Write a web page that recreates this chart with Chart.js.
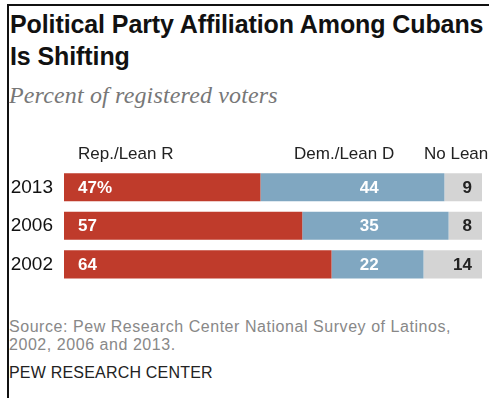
<!DOCTYPE html>
<html>
<head>
<meta charset="utf-8">
<script src="https://cdn.jsdelivr.net/npm/chart.js"></script>
<style>
  html, body { margin: 0; padding: 0; background: #fff; }
  body { width: 489px; height: 398px; position: relative; overflow: hidden; font-family: "Liberation Sans", Arial, sans-serif; }
  .frame { position: absolute; left: 7px; top: 4px; right: -5px; bottom: -5px; border-top: 2px solid #111; border-left: 2px solid #111; }
  .title { position: absolute; left: 10px; top: 8px; font-family: "Liberation Sans", Arial, sans-serif; font-weight: bold; font-size: 25px; line-height: 32px; color: #111; letter-spacing: -0.1px; white-space: nowrap; }
  .subtitle { position: absolute; left: 9px; top: 82px; font-family: "Liberation Serif", serif; font-style: italic; font-size: 24px; color: #777; letter-spacing: 0.15px; white-space: nowrap; }
  .chart { position: absolute; left: 0; top: 130px; width: 489px; height: 176px; }
  .source { position: absolute; left: 9px; top: 318px; font-size: 16px; line-height: 18px; color: #888; letter-spacing: 0.55px; white-space: nowrap; }
  .brand { position: absolute; left: 9px; top: 364px; font-size: 16px; color: #222; letter-spacing: 0.2px; }
</style>
</head>
<body>
<div class="frame"></div>
<div class="title">Political Party Affiliation Among Cubans<br>Is Shifting</div>
<div class="subtitle">Percent of registered voters</div>
<div class="chart"><canvas id="partyChart"></canvas></div>
<div class="source">Source: Pew Research Center National Survey of Latinos,<br>2002, 2006 and 2013.</div>
<div class="brand">PEW RESEARCH CENTER</div>

<script>
// data
const years = ['2013', '2006', '2002'];
const seriesNames = ['Rep./Lean R', 'Dem./Lean D', 'No Lean'];
const repValues = [47, 57, 64];
const demValues = [44, 35, 22];
const noLeanValues = [9, 8, 14];

const colors = ['#bf3b2b', '#80a7c1', '#d4d4d4'];

// column headers + value labels inside the bars
const barLabels = {
    id: 'barLabels',
    afterDatasetsDraw(chart) {
        const ctx = chart.ctx;
        const x = chart.scales.x;
        const top = chart.chartArea.top;
        ctx.save();
        ctx.textBaseline = 'middle';

        // headers
        ctx.font = '17px "Liberation Sans", Arial, sans-serif';
        ctx.fillStyle = '#222';
        ctx.textAlign = 'left';
        ctx.fillText(seriesNames[0], x.getPixelForValue(0) + 14, top - 14);
        ctx.textAlign = 'right';
        ctx.fillText(seriesNames[1], x.getPixelForValue(79), top - 14);
        ctx.fillText(seriesNames[2], x.getPixelForValue(101.5), top - 14);

        ctx.font = 'bold 17px "Liberation Sans", Arial, sans-serif';
        chart.data.datasets.forEach((ds, di) => {
            const meta = chart.getDatasetMeta(di);
            meta.data.forEach((bar, i) => {
                const v = ds.data[i];
                if (di === 0) {
                    ctx.fillStyle = '#fff';
                    ctx.textAlign = 'left';
                    ctx.fillText(i === 0 ? v + '%' : String(v), bar.base + 14, bar.y + 1);
                } else if (di === 1) {
                    ctx.fillStyle = '#fff';
                    ctx.textAlign = 'center';
                    ctx.fillText(String(v), x.getPixelForValue(73), bar.y + 1);
                } else {
                    ctx.fillStyle = '#222';
                    ctx.textAlign = 'right';
                    ctx.fillText(String(v), bar.x - 10, bar.y + 1);
                }
            });
        });
        ctx.restore();
    }
};

const datasets = [repValues, demValues, noLeanValues].map((vals, i) => ({
    label: seriesNames[i],
    data: vals,
    backgroundColor: colors[i],
    borderWidth: 0,
    categoryPercentage: 1,
    barPercentage: 0.73
}));

new Chart(document.getElementById('partyChart'), {
    type: 'bar',
    data: { labels: years, datasets: datasets },
    options: {
        indexAxis: 'y',
        responsive: true,
        maintainAspectRatio: false,
        animation: false,
        layout: { padding: { top: 38, bottom: 6, right: 7, left: 0 } },
        scales: {
            x: { stacked: true, min: 0, max: 100, display: false },
            y: {
                stacked: true,
                grid: { display: false, drawTicks: false },
                border: { display: false },
                ticks: {
                    padding: 11,
                    color: '#111',
                    font: { family: '"Liberation Sans", Arial, sans-serif', size: 19 }
                },
                afterFit(scale) { scale.width = 64; }
            }
        },
        plugins: {
            legend: { display: false },
            tooltip: { enabled: false }
        }
    },
    plugins: [barLabels]
});
</script>
</body>
</html>
